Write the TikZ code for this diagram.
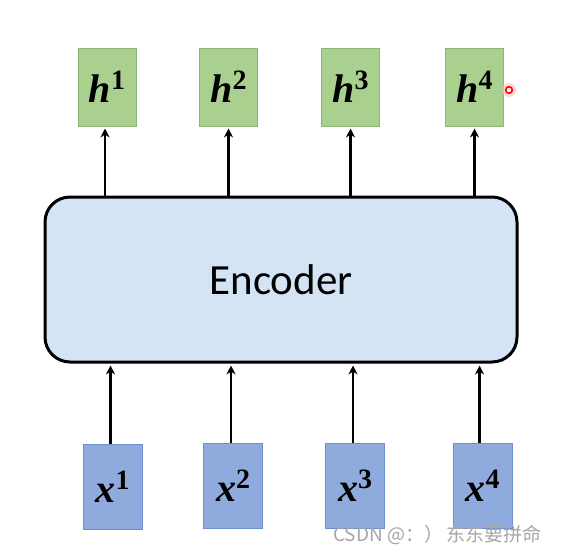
\documentclass[tikz,border=0pt]{standalone}
\usepackage{fontspec}
\usetikzlibrary{arrows.meta}
\newfontfamily\encfont{Carlito}
\newfontfamily\cjkfont{Noto Sans CJK SC}
\newfontfamily\lblfont{Liberation Serif}
\newcommand\lbl[2]{{\fontsize{40}{44}\selectfont\bfseries\itshape #1}\raisebox{13pt}{\fontsize{28}{30}\selectfont\bfseries #2}}
\definecolor{hfill}{HTML}{A9D08E}
\definecolor{hdraw}{HTML}{8CB57A}
\definecolor{xfill}{HTML}{8FAADC}
\definecolor{xdraw}{HTML}{6E8FCE}
\definecolor{encfill}{HTML}{D4E4F4}
\tikzset{
  hbox/.style={draw=hdraw, line width=1pt, fill=hfill, minimum width=58pt, minimum height=78pt, inner sep=0pt, font=\lblfont},
  xbox/.style={draw=xdraw, line width=1pt, fill=xfill, minimum width=59pt, minimum height=85pt, inner sep=0pt, font=\lblfont},
  encbox/.style={draw=black, line width=3pt, fill=encfill, rounded corners=25pt, minimum width=472pt, minimum height=165pt, inner sep=0pt, font=\encfont\fontsize{43}{48}\selectfont},
  conn/.style={line width=2.5pt, -{Stealth[length=9pt,width=9pt]}, shorten >=2pt}
}
\begin{document}
\begin{tikzpicture}[x=1pt,y=-1pt]
\useasboundingbox (0,0) rectangle (567,554);
\fill[white] (0,0) rectangle (567,554);
\node[encbox] (enc) at (281,279.5) {Encoder};
\node[hbox] (h1) at (107,87) {\lbl{h}{1}};
\node[hbox] (h2) at (228.5,87) {\lbl{h}{2}};
\node[hbox] (h3) at (350.5,87) {\lbl{h}{3}};
\node[hbox] (h4) at (474.5,87) {\lbl{h}{4}};
\node[xbox] (x1) at (112.5,487) {\lbl{x}{1}};
\node[xbox] (x2) at (233,486) {\lbl{x}{2}};
\node[xbox] (x3) at (355,486) {\lbl{x}{3}};
\node[xbox] (x4) at (482.5,486) {\lbl{x}{4}};
\foreach \i/\dx in {1/-2,2/0,3/0,4/0}{
  \draw[conn] ([xshift=\dx pt]h\i.south |- enc.north) -- ([xshift=\dx pt]h\i.south);
}
\foreach \i/\dx in {1/-2,2/-2,3/-2,4/-3}{
  \draw[conn] ([xshift=\dx pt]x\i.north) -- ([xshift=\dx pt]x\i.north |- enc.south);
}
\node[anchor=west, text=gray!70, font=\cjkfont\fontsize{19}{22}\selectfont, inner sep=0pt] (wm) at (333,535) {CSDN @：）\,东东要拼命};
\fill[red!25, opacity=0.6] (509,90) circle (7);
\draw[red, line width=1.6pt, fill=white] (509,90) circle (3.3);
\end{tikzpicture}
\end{document}
